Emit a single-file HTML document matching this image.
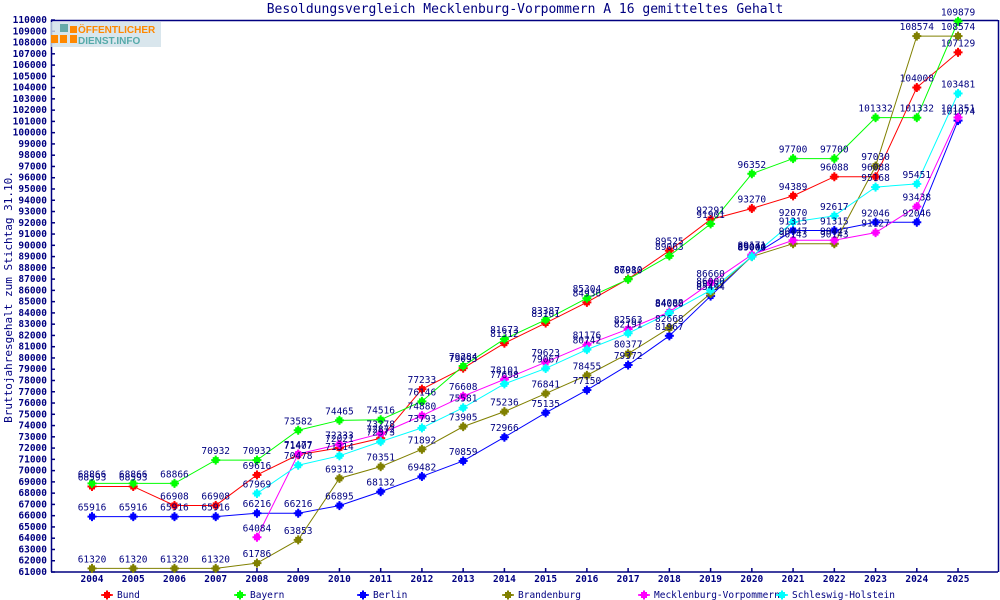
<!DOCTYPE html>
<html><head><meta charset="utf-8"><style>
body{margin:0;background:#fff;}
svg{display:block;font-family:"DejaVu Sans Mono","Liberation Mono",monospace;}
.t{font-size:9.5px;fill:#000080;}
</style></head><body>
<svg id="s" width="1000" height="600" xmlns="http://www.w3.org/2000/svg">
<rect width="1000" height="600" fill="#fff"/>
<text x="525" y="13" text-anchor="middle" font-size="13" fill="#000080">Besoldungsvergleich Mecklenburg-Vorpommern A 16 gemitteltes Gehalt</text>
<text transform="translate(12,297) rotate(-90)" text-anchor="middle" font-size="11" fill="#000080">Bruttojahresgehalt zum Stichtag 31.10.</text>
<g id="ax" stroke="#000080" stroke-width="1.5" fill="none">
<line x1="51" y1="20.5" x2="998" y2="20.5"/>
<line x1="51.5" y1="20" x2="51.5" y2="572"/>
<line x1="51" y1="572" x2="998" y2="572"/>
<line x1="998.5" y1="20" x2="998.5" y2="572"/>
</g>
<g id="yl" class="t" font-weight="bold" font-size="8.5" text-anchor="end"></g>
<g id="xl" class="t" font-weight="bold" font-size="8.5" text-anchor="middle"></g>
<g id="lines"></g>
<g id="labels" class="t" text-anchor="middle">
<g><text>68593</text><text>68593</text><text>66908</text><text>66908</text><text>69616</text><text>71407</text><text>72021</text><text>72872</text><text>77233</text><text>79095</text><text>81312</text><text>83101</text><text>84936</text><text>87010</text><text>89525</text><text>92291</text><text>93270</text><text>94389</text><text>96088</text><text>96088</text><text>104008</text><text>107129</text></g>
<g><text>68866</text><text>68866</text><text>68866</text><text>70932</text><text>70932</text><text>73582</text><text>74465</text><text>74516</text><text>76146</text><text>79284</text><text>81673</text><text>83387</text><text>85304</text><text>86980</text><text>89063</text><text>91901</text><text>96352</text><text>97700</text><text>97700</text><text>101332</text><text>101332</text><text>109879</text></g>
<g><text>65916</text><text>65916</text><text>65916</text><text>65916</text><text>66216</text><text>66216</text><text>66895</text><text>68132</text><text>69482</text><text>70859</text><text>72966</text><text>75135</text><text>77150</text><text>79372</text><text>81967</text><text>85494</text><text>89044</text><text>91315</text><text>91315</text><text>92046</text><text>92046</text><text>101074</text></g>
<g><text>61320</text><text>61320</text><text>61320</text><text>61320</text><text>61786</text><text>63853</text><text>69312</text><text>70351</text><text>71892</text><text>73905</text><text>75236</text><text>76841</text><text>78455</text><text>80377</text><text>82668</text><text>85727</text><text>89000</text><text>90143</text><text>90143</text><text>97030</text><text>108574</text><text>108574</text></g>
<g><text>64084</text><text>71477</text><text>72333</text><text>73278</text><text>74880</text><text>76608</text><text>78101</text><text>79623</text><text>81176</text><text>82563</text><text>84088</text><text>86660</text><text>89171</text><text>90447</text><text>90447</text><text>91127</text><text>93438</text><text>101351</text></g>
<g><text>67969</text><text>70478</text><text>71314</text><text>72573</text><text>73793</text><text>75581</text><text>77698</text><text>79067</text><text>80742</text><text>82191</text><text>84000</text><text>86000</text><text>89000</text><text>92070</text><text>92617</text><text>95168</text><text>95451</text><text>103481</text></g>
</g>
<g class="t" font-size="8" fill="#000080">
<text x="117" y="598">Bund</text>
<text x="250" y="598">Bayern</text>
<text x="373" y="598">Berlin</text>
<text x="518" y="598">Brandenburg</text>
<text x="654" y="598">Mecklenburg-Vorpommern</text>
<text x="792" y="598">Schleswig-Holstein</text>
</g>
<g id="leg"></g>
<rect x="50" y="22" width="111" height="25" fill="#cfe0e8" opacity="0.8"/>
<rect x="60" y="24" width="8" height="8" fill="#6aa"/>
<rect x="70" y="26" width="7" height="7" fill="#f80"/>
<rect x="51" y="35" width="7" height="8" fill="#f80"/>
<rect x="60" y="35" width="7" height="8" fill="#f80"/>
<rect x="70" y="35" width="7" height="8" fill="#f80"/>
<text x="78" y="33" font-size="10" font-weight="bold" fill="#f80" font-family="Liberation Sans,sans-serif">ÖFFENTLICHER</text>
<text x="78" y="44" font-size="10" font-weight="bold" fill="#5aa" font-family="Liberation Sans,sans-serif">DIENST.INFO</text>
</svg>
<script>
var NS="http://www.w3.org/2000/svg";
function X(i){return 92+i*41.24;}
function Y(v){return 572-(v-61000)*0.011265;}
function el(n,a,p){var e=document.createElementNS(NS,n);for(var k in a)e.setAttribute(k,a[k]);p.appendChild(e);return e;}
var yl=document.getElementById('yl'),xl=document.getElementById('xl'),ax=document.getElementById('ax');
for(var v=61000;v<=110000;v+=1000){var t=el('text',{x:47,y:Y(v)+3},yl);t.textContent=v;el('line',{x1:51,x2:55,y1:Y(v),y2:Y(v)},ax);}
for(var i=0;i<22;i++){var t=el('text',{x:X(i),y:582},xl);t.textContent=2004+i;el('line',{x1:X(i),x2:X(i),y1:572,y2:568},ax);}
var cols=['#ff0000','#00ff00','#0000ff','#808000','#ff00ff','#00ffff'];
var starts=[0,0,0,0,4,4];
var lines=document.getElementById('lines');
var groups=document.getElementById('labels').children;
function mark(x,y,c,p){el('rect',{x:x-3,y:y-3,width:6,height:6,fill:c},p);el('rect',{x:x-1,y:y-4.5,width:2,height:9,fill:c},p);el('rect',{x:x-4.5,y:y-1,width:9,height:2,fill:c},p);}
for(var s=0;s<6;s++){
 var tx=groups[s].children,pts=[];
 for(var j=0;j<tx.length;j++){var i=starts[s]+j,v=+tx[j].textContent;pts.push([X(i),Y(v)]);tx[j].setAttribute('x',X(i));tx[j].setAttribute('y',Y(v)-6);}
 el('polyline',{points:pts.map(p=>p.join(',')).join(' '),fill:'none',stroke:cols[s],'stroke-width':1},lines);
 pts.forEach(p=>mark(p[0],p[1],cols[s],lines));
}
var lx=[107,240,363,508,644,782],leg=document.getElementById('leg');
for(var s=0;s<6;s++){el('line',{x1:lx[s]-6,x2:lx[s]+6,y1:595,y2:595,stroke:cols[s],'stroke-width':1.5},leg);mark(lx[s],595,cols[s],leg);}
</script>
</body></html>
